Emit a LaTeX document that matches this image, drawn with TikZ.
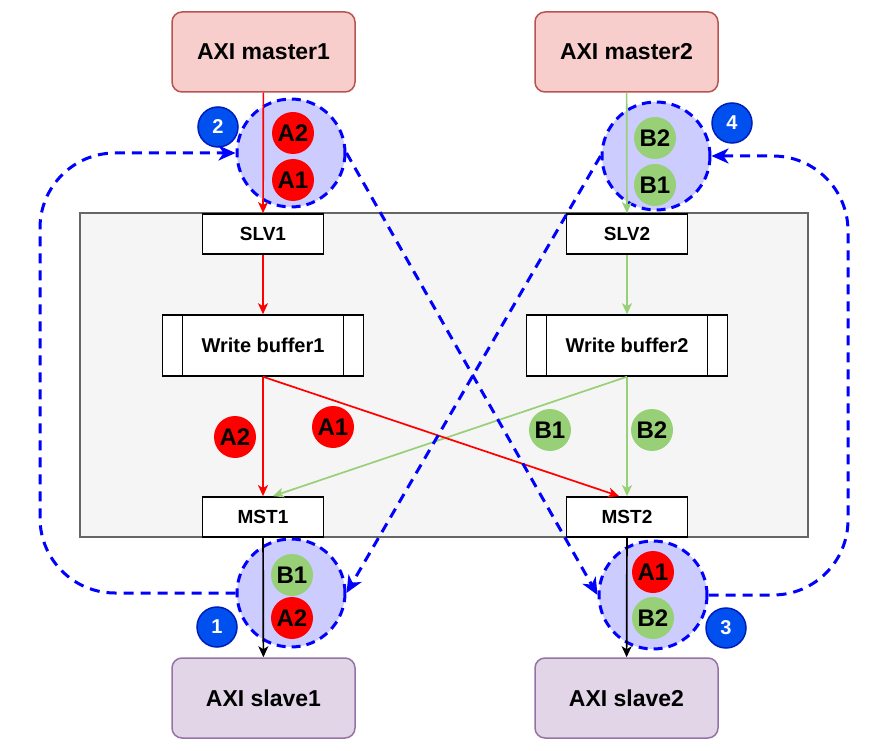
\documentclass[tikz,border=0pt]{standalone}
\usepackage{fontspec}
\setmainfont{Liberation Sans}
\usetikzlibrary{arrows.meta}
\definecolor{masterFill}{HTML}{F8CECC}
\definecolor{masterLine}{HTML}{B85450}
\definecolor{slaveFill}{HTML}{E1D5E7}
\definecolor{slaveLine}{HTML}{9673A6}
\definecolor{frameFill}{HTML}{F5F5F5}
\definecolor{frameLine}{HTML}{666666}
\definecolor{tokRed}{HTML}{FF0000}
\definecolor{tokGreen}{HTML}{97D077}
\definecolor{ringFill}{HTML}{CCCCFF}
\definecolor{flowBlue}{HTML}{0000FF}
\definecolor{badgeFill}{HTML}{0050EF}
\definecolor{badgeLine}{HTML}{001DBC}
\newcommand\boxW{183}
\newcommand\boxH{80}
\newcommand\portW{121}
\newcommand\portH{40}
\newcommand\ringD{108}
\newcommand\tokD{42}
\newcommand{\txt}[1]{\fontsize{#1}{#1}\selectfont\bfseries}
\tikzset{
    axiMaster/.style={draw=masterLine, fill=masterFill, line width=1.5pt, rounded corners=10pt,
        minimum width=\boxW pt, minimum height=\boxH pt, font=\txt{23}},
    axiSlave/.style={axiMaster, draw=slaveLine, fill=slaveFill},
    port/.style={draw=black, fill=white, line width=1.8pt, minimum width=\portW pt,
        minimum height=\portH pt, inner sep=0pt, font=\txt{19}},
    buffer/.style={draw=black, fill=white, line width=1.5pt, minimum width=201pt,
        minimum height=61pt, inner sep=0pt, font=\txt{20},
        path picture={\draw[line width=1.5pt]
            ([xshift=20pt]path picture bounding box.north west) -- ([xshift=20pt]path picture bounding box.south west)
            ([xshift=-20pt]path picture bounding box.north east) -- ([xshift=-20pt]path picture bounding box.south east);}},
    ring/.style={circle, fill=ringFill, draw=flowBlue, line width=3pt, dash pattern=on 9pt off 6pt,
        minimum size=\ringD pt, inner sep=0pt},
    tokA/.style={circle, fill=tokRed, minimum size=\tokD pt, inner sep=0pt, font=\txt{24}},
    tokB/.style={tokA, fill=tokGreen},
    badge/.style={circle, fill=badgeFill, draw=badgeLine, line width=1.5pt, minimum size=40pt,
        inner sep=0pt, text=white, font=\txt{20}},
    wire/.style={line width=1.7pt, -{Stealth[length=11pt, width=10pt, inset=3pt]}},
    flow/.style={draw=flowBlue, line width=3pt, dash pattern=on 10pt off 7pt,
        -{Stealth[length=17pt, width=15pt, inset=5pt]}}
}

\begin{document}
\begin{tikzpicture}[x=1pt, y=-1pt]
    \useasboundingbox (0,0) rectangle (878,751);

    \draw[fill=frameFill, draw=frameLine, line width=1.5pt] (80,213) rectangle (808,537);

    \node[axiMaster] (master1) at (263.5,52) {AXI master1};
    \node[axiMaster] (master2) at (626.5,52) {AXI master2};
    \node[axiSlave] (slave1) at (263.5,698) {AXI slave1};
    \node[axiSlave] (slave2) at (626.5,698) {AXI slave2};

    \node[port] (slv1) at (263,234) {SLV1};
    \node[port] (slv2) at (627,234) {SLV2};
    \node[buffer] (wbuf1) at (263,345.5) {Write buffer1};
    \node[buffer] (wbuf2) at (627,345.5) {Write buffer2};
    \node[port] (mst1) at (263,517) {MST1};
    \node[port] (mst2) at (627,517) {MST2};

    \node[ring] (ring2) at (291,153) {};
    \node[ring] (ring4) at (656,156) {};
    \node[ring] (ring1) at (291,593) {};
    \node[ring] (ring3) at (653,595) {};

    \draw[wire, tokRed] (master1) -- (slv1);
    \draw[wire, tokRed] (slv1) -- (wbuf1);
    \draw[wire, tokRed] (wbuf1.south) -- (mst1.north);
    \draw[wire, tokGreen] (master2) -- (slv2);
    \draw[wire, tokGreen] (slv2) -- (wbuf2);
    \draw[wire, tokGreen] (wbuf2.south) -- (mst2.north);
    \draw[wire, tokGreen] (wbuf2.south) -- ([xshift=10pt]mst1.north);
    \draw[wire, tokRed] (wbuf1.south) -- ([xshift=-8pt]mst2.north);
    \draw[wire, black] (mst1) -- (slave1);
    \draw[wire, black] (mst2) -- (slave2);

    \foreach \name/\sty/\lbl/\x/\y in {
        inA2/tokA/A2/293/133, inA1/tokA/A1/293/180,
        inB2/tokB/B2/655/138, inB1/tokB/B1/655/185,
        midA2/tokA/A2/235/437, midA1/tokA/A1/333/427,
        midB1/tokB/B1/550/430, midB2/tokB/B2/652/430,
        outB1/tokB/B1/292/575, outA2/tokA/A2/292/618,
        outA1/tokA/A1/653/572, outB2/tokB/B2/653/618}
        \node[\sty] (\name) at (\x,\y) {\lbl};

    \node[badge] (step2) at (218,127) {2};
    \node[badge] (step4) at (732,123) {4};
    \node[badge] (step1) at (217,627) {1};
    \node[badge] (step3) at (726,628) {3};

    \coordinate (loopL) at (40,373);
    \coordinate (loopR) at (848,373);
    \draw[flow, rounded corners=75pt] (ring1.west) -- (ring1.west -| loopL) |- (ring2.west);
    \draw[flow, rounded corners=75pt] (ring3.east) -- (ring3.east -| loopR) |- (ring4.east);
    \draw[flow] (ring2.east) -- (ring3.west);
    \draw[flow] (ring4.west) -- (ring1.east);
\end{tikzpicture}
\end{document}
